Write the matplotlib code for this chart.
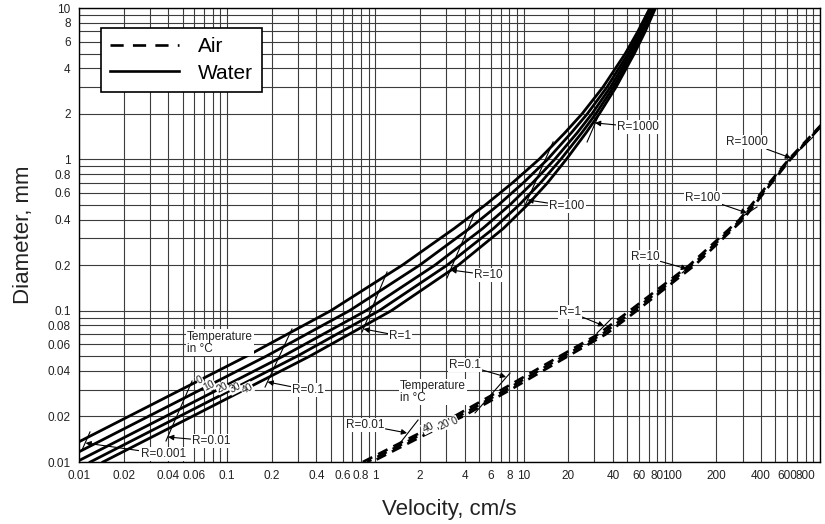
import numpy as np
import matplotlib
matplotlib.use('Agg')
import matplotlib.pyplot as plt
from matplotlib.ticker import FixedLocator, FixedFormatter, LogLocator, NullFormatter
from matplotlib.lines import Line2D

plt.rcParams['font.family'] = ['Liberation Sans', 'DejaVu Sans']

# ---- water curves: velocity (cm/s) read at these diameters (mm) ----
d_water = [0.01, 0.02, 0.05, 0.1, 0.2, 0.35, 0.5, 0.7, 1, 1.5, 2, 3, 5, 7, 10]
v_w0 = [0.0054, 0.0216, 0.135, 0.50, 1.52, 3.41, 5.52, 8.41, 12.7, 19.0, 24.8, 34.3, 48.5, 59.0, 71.1]
v_w10 = [0.00733, 0.0293, 0.183, 0.668, 1.99, 4.32, 6.76, 9.95, 14.5, 21.0, 26.9, 36.5, 50.7, 61.1, 73.1]
v_w20 = [0.00957, 0.0383, 0.238, 0.863, 2.52, 5.31, 8.07, 11.5, 16.2, 23.0, 28.9, 38.5, 52.6, 63.0, 74.8]
v_w30 = [0.0119, 0.0475, 0.296, 1.06, 3.05, 6.28, 9.33, 13.0, 17.8, 24.7, 30.7, 40.3, 54.3, 64.6, 76.2]
v_w40 = [0.0145, 0.058, 0.36, 1.28, 3.63, 7.31, 10.6, 14.5, 19.4, 26.4, 32.4, 42.0, 55.8, 66.1, 77.6]

# ---- air curves ----
d_air = [0.01, 0.015, 0.02, 0.03, 0.05, 0.07, 0.1, 0.2, 0.4, 0.7, 1.0, 1.7]
v_a40 = [0.822, 1.85, 3.39, 7.08, 17.5, 31.9, 52.0, 131.5, 286, 455, 615, 1023]
v_a20 = [0.88, 1.98, 3.63, 7.59, 18.6, 33.9, 55.0, 137, 294, 463, 624, 1033]
v_a0 = [0.944, 2.12, 3.89, 8.13, 19.9, 36.0, 58.1, 143, 302, 472, 632, 1042]

# ---- Reynolds number marks (water) ----
rw_labels = ['R=0.001', 'R=0.01', 'R=0.1', 'R=1', 'R=10', 'R=100', 'R=1000']
rw_x = [(0.01047, 0.01186), (0.0386, 0.0579), (0.180, 0.2735), (0.812, 1.198),
        (3.04, 4.70), (9.91, 15.8), (26.8, 32.8)]
rw_y = [(0.0120, 0.0158), (0.01377, 0.0343), (0.0313, 0.0757), (0.0723, 0.1803),
        (0.1645, 0.449), (0.463, 1.303), (1.303, 2.057)]
rw_tip = [(0.01106, 0.01335), (0.0399, 0.01463), (0.187, 0.0338), (0.831, 0.0757),
          (3.21, 0.1858), (10.62, 0.539), (30.3, 1.74)]
rw_text = [(0.0369, 0.01129), (0.0777, 0.01377), (0.3508, 0.0299), (1.466, 0.0681),
           (5.75, 0.1722), (19.63, 0.492), (59.2, 1.637)]

# ---- Reynolds number marks (air) ----
ra_labels = ['R=0.01', 'R=0.1', 'R=1', 'R=10', 'R=100', 'R=1000']
ra_x = [(1.398, 1.939), (4.70, 8.09), (31.3, 39.5), (117.2, 139), (288.5, 375.7), (580.5, 897)]
ra_y = [(0.01256, 0.01895), (0.0211, 0.0387), (0.0712, 0.0895), (0.1775, 0.2066),
        (0.41, 0.4845), (0.932, 1.406)]
ra_tip = [(1.634, 0.01555), (7.61, 0.03646), (34.9, 0.0792), (126.6, 0.1887),
          (321.7, 0.442), (637.0, 1.02)]
ra_text = [(0.851, 0.01756), (4.02, 0.04378), (20.56, 0.098), (65.9, 0.2264),
           (162.4, 0.556), (321.7, 1.303)]

# ---- temperature labels ----
tw_labels = ['0', '10', '20', '30', '40']
tw_x = [0.0656, 0.0754, 0.0922, 0.1128, 0.136]
tw_y = [0.0346, 0.0320, 0.0310, 0.0308, 0.0306]
ta_labels = ['40', '20', '0']
ta_x = [2.264, 2.903, 3.444]
ta_y = [0.0169, 0.0176, 0.0186]

x_ticks = [0.01, 0.02, 0.04, 0.06, 0.1, 0.2, 0.4, 0.6, 0.8, 1, 2, 4, 6, 8, 10,
           20, 40, 60, 80, 100, 200, 400, 600, 800]
x_tick_labels = ['0.01', '0.02', '0.04', '0.06', '0.1', '0.2', '0.4', '0.6', '0.8', '1',
                 '2', '4', '6', '8', '10', '20', '40', '60', '80', '100', '200', '400',
                 '600', '800']
y_ticks = [0.01, 0.02, 0.04, 0.06, 0.08, 0.1, 0.2, 0.4, 0.6, 0.8, 1, 2, 4, 6, 8, 10]
y_tick_labels = ['0.01', '0.02', '0.04', '0.06', '0.08', '0.1', '0.2', '0.4', '0.6',
                 '0.8', '1', '2', '4', '6', '8', '10']

fig = plt.figure(figsize=(8.25, 5.24), dpi=100)
ax = fig.add_axes([0.0958, 0.1183, 0.8982, 0.8664])
ax.set_xscale('log')
ax.set_yscale('log')
ax.set_xlim(0.01, 1000)
ax.set_ylim(0.01, 10)

# curves
for v in (v_w0, v_w10, v_w20, v_w30, v_w40):
    ax.plot(v, d_water, color='black', lw=2.0, zorder=3)
for v, off in ((v_a40, 0), (v_a20, 2.2), (v_a0, 4.4)):
    ax.plot(v, d_air, color='black', lw=1.9, ls=(off, (4, 2.5)), zorder=3)

# Reynolds number segments + callouts
box = dict(boxstyle='square,pad=0.1', fc='white', ec='none')
arrow = dict(arrowstyle='-|>', color='black', lw=0.8, mutation_scale=8, shrinkA=0, shrinkB=0)
for xs, ys in zip(rw_x + ra_x, rw_y + ra_y):
    ax.plot(xs, ys, color='black', lw=0.8, zorder=4)
for lab, tip, txt in zip(rw_labels + ra_labels, rw_tip + ra_tip, rw_text + ra_text):
    ax.annotate(lab, xy=tip, xytext=txt, fontsize=8.5, ha='center', va='center',
                bbox=box, arrowprops=arrow, zorder=6, color='#222222')

# temperature labels
for lab, x, y in zip(tw_labels + ta_labels, tw_x + ta_x, tw_y + ta_y):
    ax.text(x, y, lab, fontsize=7.5, rotation=27, ha='center', va='center', color='#222222',
            bbox=dict(boxstyle='square,pad=0.05', fc='white', ec='none'), zorder=5)
ax.text(0.0536, 0.0616, 'Temperature\nin °C', fontsize=8.5, ha='left', va='center',
        linespacing=1.0, bbox=box, zorder=5, color='#222222')
ax.text(1.466, 0.029, 'Temperature\nin °C', fontsize=8.5, ha='left', va='center',
        linespacing=1.0, bbox=box, zorder=5, color='#222222')

# axes, ticks, grid
ax.xaxis.set_major_locator(FixedLocator(x_ticks))
ax.xaxis.set_major_formatter(FixedFormatter(x_tick_labels))
ax.yaxis.set_major_locator(FixedLocator(y_ticks))
ax.yaxis.set_major_formatter(FixedFormatter(y_tick_labels))
for a in (ax.xaxis, ax.yaxis):
    a.set_minor_locator(LogLocator(base=10, subs=np.arange(1, 10), numticks=50))
    a.set_minor_formatter(NullFormatter())
ax.grid(True, which='both', color='#3c3c3c', lw=0.8)
ax.set_axisbelow(True)
ax.tick_params(which='both', length=0, labelsize=8.5, pad=6, colors='#222222')
for s in ax.spines.values():
    s.set_color('black')
    s.set_linewidth(1.0)

ax.set_xlabel('Velocity, cm/s', fontsize=16, labelpad=12, color='#222222')
ax.set_ylabel('Diameter, mm', fontsize=16, labelpad=10, color='#222222')

handles = [Line2D([], [], color='black', lw=1.9, ls=(0, (5, 3.5))),
           Line2D([], [], color='black', lw=1.9)]
leg = ax.legend(handles, ['Air', 'Water'], loc='upper left', bbox_to_anchor=(0.0297, 0.956),
                borderaxespad=0, fontsize=15, handlelength=3.3, handletextpad=0.9,
                labelspacing=0.35, borderpad=0.45, fancybox=False, framealpha=1,
                edgecolor='black')
leg.get_frame().set_linewidth(1.2)
leg.set_zorder(10)

fig.savefig('out.png', dpi=100)
